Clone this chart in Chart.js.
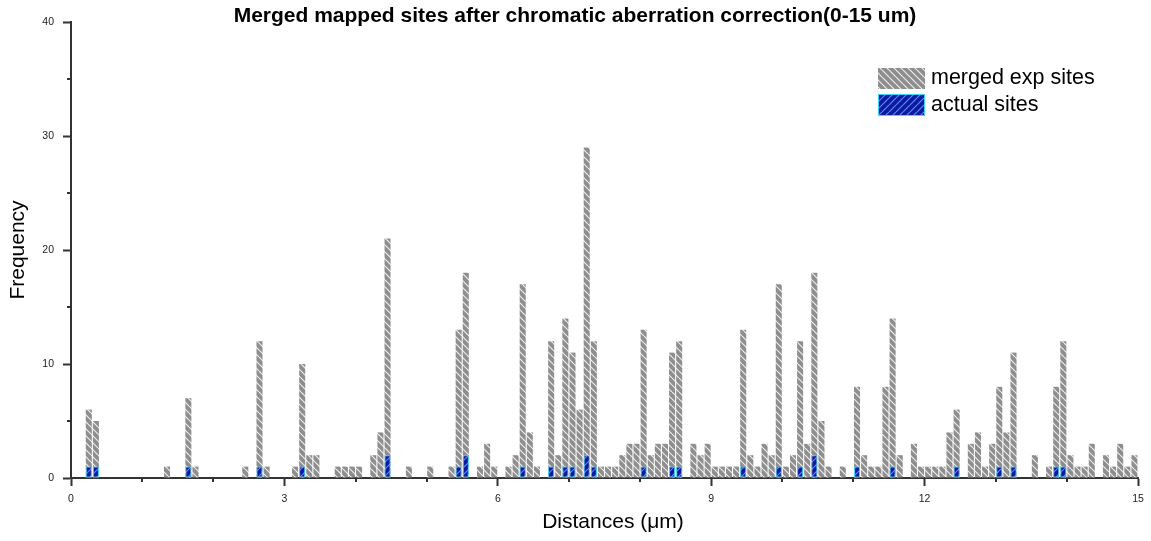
<!DOCTYPE html>
<html>
<head>
<meta charset="utf-8">
<script src="https://cdn.jsdelivr.net/npm/chart.js@4.4.0/dist/chart.umd.min.js"></script>
<style>
  html, body { margin: 0; padding: 0; background: #fff; }
</style>
</head>
<body>
<canvas id="chart" width="1151" height="541"></canvas>
<script>
const titleText = "Merged mapped sites after chromatic aberration correction(0-15 um)";
const xTitle = "Distances (\u03bcm)";
const yTitle = "Frequency";
const seriesNames = ["merged exp sites", "actual sites"];

// histogram bins of 0.1 um from 0 to 15
const binWidth = 0.1;
const xRange = [0, 15];
const yRange = [0, 40];

// counts per bin
const mergedCounts = [
  0, 0, 6, 5, 0, 0, 0, 0, 0, 0,
  0, 0, 0, 1, 0, 0, 7, 1, 0, 0,
  0, 0, 0, 0, 1, 0, 12, 1, 0, 0,
  0, 1, 10, 2, 2, 0, 0, 1, 1, 1,
  1, 0, 2, 4, 21, 0, 0, 1, 0, 0,
  1, 0, 0, 1, 13, 18, 0, 1, 3, 1,
  0, 1, 2, 17, 4, 1, 0, 12, 2, 14,
  11, 6, 29, 12, 1, 1, 1, 2, 3, 3,
  13, 2, 3, 3, 11, 12, 0, 3, 2, 3,
  1, 1, 1, 1, 13, 2, 1, 3, 2, 17,
  1, 2, 12, 3, 18, 5, 1, 0, 1, 0,
  8, 2, 1, 1, 8, 14, 2, 0, 3, 1,
  1, 1, 1, 4, 6, 0, 3, 4, 1, 3,
  8, 4, 11, 0, 0, 2, 0, 1, 8, 12,
  2, 1, 1, 3, 0, 2, 1, 3, 1, 2
];

const actualCounts = [
  0, 0, 1, 1, 0, 0, 0, 0, 0, 0,
  0, 0, 0, 0, 0, 0, 1, 0, 0, 0,
  0, 0, 0, 0, 0, 0, 1, 0, 0, 0,
  0, 0, 1, 0, 0, 0, 0, 0, 0, 0,
  0, 0, 0, 0, 2, 0, 0, 0, 0, 0,
  0, 0, 0, 0, 1, 2, 0, 0, 0, 0,
  0, 0, 0, 1, 0, 0, 0, 1, 0, 1,
  1, 0, 2, 1, 0, 0, 0, 0, 0, 0,
  1, 0, 0, 0, 1, 1, 0, 0, 0, 0,
  0, 0, 0, 0, 1, 0, 0, 0, 0, 1,
  0, 0, 1, 0, 2, 0, 0, 0, 0, 0,
  1, 0, 0, 0, 0, 1, 0, 0, 0, 0,
  0, 0, 0, 0, 1, 0, 0, 0, 0, 0,
  1, 0, 1, 0, 0, 0, 0, 0, 1, 1,
  0, 0, 0, 0, 0, 0, 0, 0, 0, 0
];

// hatch fills
function hatch(bg, fg, dir) {
  const s = 7;
  const c = document.createElement("canvas");
  c.width = s;
  c.height = s;
  const g = c.getContext("2d");
  g.fillStyle = bg;
  g.fillRect(0, 0, s, s);
  g.strokeStyle = fg;
  g.lineWidth = 1.2;
  for (const k of [-s, 0, s]) {
    g.beginPath();
    if (dir === "\\") {
      g.moveTo(k, 0);
      g.lineTo(k + s, s);
    } else {
      g.moveTo(k, s);
      g.lineTo(k + s, 0);
    }
    g.stroke();
  }
  return g.createPattern(c, "repeat");
}

const grayFill = hatch("#8e8e8e", "#ececec", "\\");
const blueFill = hatch("#0c1a9e", "#5b86ff", "/");
const blueEdge = "#3fd3ff";

const toPoints = (arr) =>
  arr.map((v, i) => ({ x: (i + 0.5) * binWidth, y: v })).filter((p) => p.y > 0);

// title, axis title, legend and minor ticks
const extras = {
  id: "extras",
  afterDraw(chart) {
    const ctx = chart.ctx;
    const xs = chart.scales.x;
    const ys = chart.scales.y;
    ctx.save();

    ctx.strokeStyle = "#333";
    ctx.lineWidth = 2;
    for (let v = xRange[0]; v <= xRange[1]; v++) {
      if (v % 3 === 0) continue;
      const px = Math.round(xs.getPixelForValue(v));
      ctx.beginPath();
      ctx.moveTo(px, ys.bottom);
      ctx.lineTo(px, ys.bottom + 4);
      ctx.stroke();
    }
    for (let v = 5; v < yRange[1]; v += 10) {
      const py = Math.round(ys.getPixelForValue(v));
      ctx.beginPath();
      ctx.moveTo(xs.left, py);
      ctx.lineTo(xs.left - 4, py);
      ctx.stroke();
    }

    ctx.fillStyle = "#000";
    ctx.font = "bold 21px 'Liberation Sans', Arial, sans-serif";
    ctx.textAlign = "center";
    ctx.textBaseline = "middle";
    ctx.fillText(titleText, 575, 16);

    ctx.font = "21px 'Liberation Sans', Arial, sans-serif";
    ctx.fillText(xTitle, 613, 522);

    // legend
    const fills = [grayFill, blueFill];
    const rows = [[68, 21], [94, 22]];
    ctx.font = "21.5px 'Liberation Sans', Arial, sans-serif";
    ctx.textAlign = "left";
    seriesNames.forEach((name, i) => {
      const [y, h] = rows[i];
      ctx.fillStyle = fills[i];
      ctx.fillRect(878, y, 47, h);
      if (i === 1) {
        ctx.strokeStyle = blueEdge;
        ctx.lineWidth = 1;
        ctx.strokeRect(878.5, y + 0.5, 46, h - 1);
      }
      ctx.fillStyle = "#000";
      ctx.fillText(name, 931, y + h / 2);
    });
    ctx.restore();
  },
};

new Chart(document.getElementById("chart"), {
  type: "bar",
  data: {
    datasets: [
      {
        label: seriesNames[0],
        data: toPoints(mergedCounts),
        backgroundColor: grayFill,
        borderWidth: 0,
        grouped: false,
        order: 2,
      },
      {
        label: seriesNames[1],
        data: toPoints(actualCounts),
        backgroundColor: blueFill,
        borderColor: blueEdge,
        borderWidth: 1,
        borderSkipped: false,
        grouped: false,
        order: 1,
      },
    ],
  },
  options: {
    responsive: false,
    animation: false,
    devicePixelRatio: 1,
    barPercentage: 0.85,
    categoryPercentage: 1,
    layout: { padding: { top: 22, right: 13, left: 0, bottom: 0 } },
    plugins: {
      legend: { display: false },
      tooltip: { enabled: false },
    },
    scales: {
      x: {
        type: "linear",
        offset: false,
        min: xRange[0],
        max: xRange[1],
        z: 1,
        grid: {
          offset: false,
          drawOnChartArea: false,
          tickLength: 8,
          tickWidth: 2,
          tickColor: "#333",
        },
        border: { color: "#333", width: 2 },
        ticks: {
          stepSize: 3,
          autoSkip: false,
          maxRotation: 0,
          padding: 7,
          color: "#222",
          font: { size: 10.5, family: "'Liberation Sans', Arial, sans-serif" },
        },
        afterFit: (s) => { s.height = 63; },
      },
      y: {
        min: yRange[0],
        max: yRange[1],
        z: 1,
        grid: {
          drawOnChartArea: false,
          tickLength: 8,
          tickWidth: 2,
          tickColor: "#333",
        },
        border: { color: "#333", width: 2 },
        ticks: {
          stepSize: 10,
          padding: 9,
          color: "#222",
          font: { size: 10.5, family: "'Liberation Sans', Arial, sans-serif" },
        },
        title: {
          display: true,
          text: yTitle,
          color: "#000",
          padding: { top: 6, bottom: 0 },
          font: { size: 21, family: "'Liberation Sans', Arial, sans-serif" },
        },
        afterFit: (s) => { s.width = 71; },
      },
    },
  },
  plugins: [extras],
});
</script>
</body>
</html>
